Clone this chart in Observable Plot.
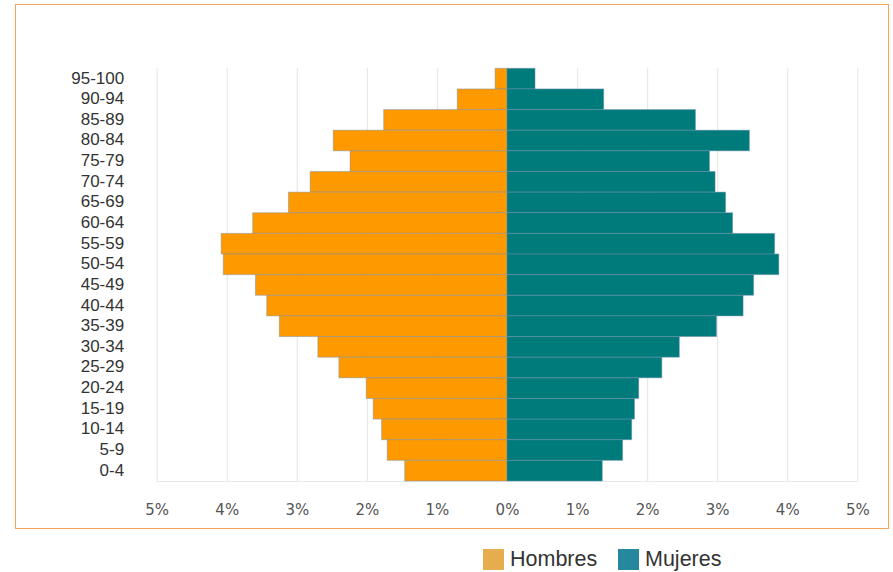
<!DOCTYPE html>
<html>
<head>
<meta charset="utf-8">
<script src="https://cdn.jsdelivr.net/npm/d3@7"></script>
<script src="https://cdn.jsdelivr.net/npm/@observablehq/plot@0.6"></script>
<style>
  html, body { margin: 0; padding: 0; background: #fff; }
  body { width: 893px; height: 572px; position: relative; overflow: hidden; }
  #frame { position: absolute; left: 15px; top: 4px; width: 872px; height: 523px; border: 1.5px solid #f5a35c; box-sizing: content-box; }
  #chart { position: absolute; left: 0; top: 0; }
  .leg { position: absolute; top: 549px; height: 21px; display: flex; align-items: center; font-family: "Liberation Sans", Arial, sans-serif; font-size: 21.5px; color: #333; }
  .sw { width: 21px; height: 21px; margin-right: 6px; }
</style>
</head>
<body>
<div id="frame"></div>
<div id="chart"></div>
<div class="leg" style="left:483px"><div class="sw" style="background:#e6ad4e"></div>Hombres</div>
<div class="leg" style="left:618px"><div class="sw" style="background:#25889c"></div>Mujeres</div>
<script>
const ages = ["95-100","90-94","85-89","80-84","75-79","70-74","65-69","60-64","55-59","50-54","45-49","40-44","35-39","30-34","25-29","20-24","15-19","10-14","5-9","0-4"];
const hombres = [0.17,0.71,1.76,2.48,2.24,2.81,3.12,3.63,4.08,4.05,3.59,3.43,3.25,2.70,2.40,2.01,1.91,1.79,1.71,1.46];
const mujeres = [0.40,1.38,2.69,3.46,2.89,2.97,3.12,3.22,3.82,3.88,3.52,3.37,2.99,2.46,2.21,1.88,1.82,1.78,1.65,1.36];
const xTicks = [-5,-4,-3,-2,-1,0,1,2,3,4,5];

const data = [
  ...ages.map((a,i) => ({age: a, sexo: "Hombres", v: -hombres[i]})),
  ...ages.map((a,i) => ({age: a, sexo: "Mujeres", v: mujeres[i]}))
];

const chart = Plot.plot({
  width: 893,
  height: 530,
  marginLeft: 156.7,
  marginRight: 35.7,
  marginTop: 68.3,
  marginBottom: 49,
  style: {background: "transparent"},
  x: {domain: [-5, 5], ticks: xTicks, tickFormat: d => Math.abs(d) + "%", label: null},
  y: {domain: ages, padding: 0, round: false, label: null},
  color: {domain: ["Hombres","Mujeres"], range: ["#ff9900","#007b7b"]},
  marks: [
    Plot.ruleX(xTicks.filter(d => d !== 0), {stroke: "#e8e8e8", strokeWidth: 1.2}),
    Plot.frame({anchor: "bottom", stroke: "#e8e8e8", strokeWidth: 1.2}),
    Plot.barX(data, {x: "v", y: "age", fill: "sexo", stroke: "#6f8fb0", strokeOpacity: 0.45, strokeWidth: 1}),
    Plot.axisX({ticks: xTicks, tickSize: 0, tickPadding: 23, tickFormat: d => Math.abs(d) + "%", fontSize: 15, fontFamily: "DejaVu Sans", fill: "#555", label: null}),
    Plot.axisY({tickSize: 0, tickPadding: 33, dy: -1, fontSize: 17, fontFamily: "Liberation Sans", fill: "#333", label: null})
  ]
});
document.getElementById("chart").appendChild(chart);
</script>
</body>
</html>
